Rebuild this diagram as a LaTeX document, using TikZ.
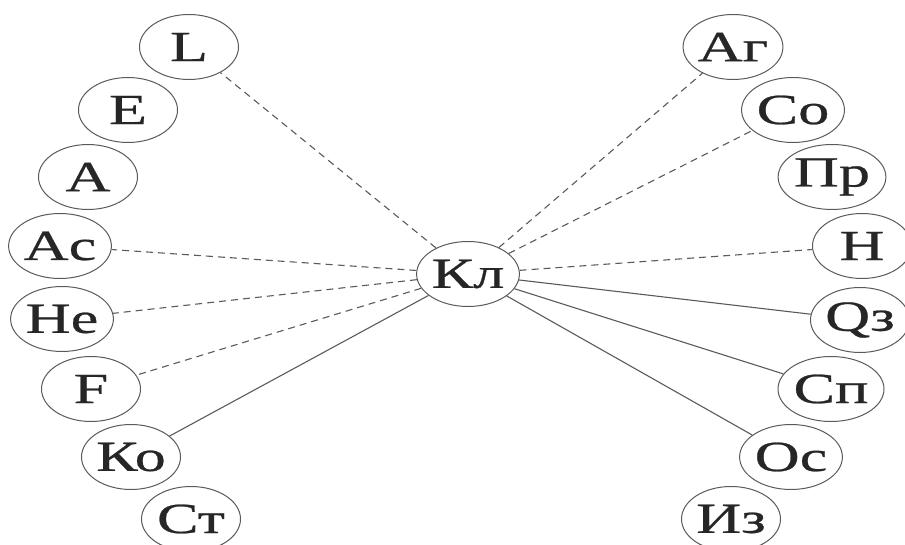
\documentclass[tikz,border=0pt]{standalone}
\usepackage{fontspec}
\setmainfont{Liberation Serif}
\newfontfamily\widefont[FakeStretch=1.45,FakeBold=0.6]{Liberation Serif}
\usetikzlibrary{shapes.geometric}
\definecolor{edgegray}{HTML}{5A5A5A}
\definecolor{inkgray}{HTML}{262626}
\tikzset{
  term/.style={ellipse, draw=edgegray, line width=1pt, inner sep=0pt,
    minimum width=99pt, minimum height=65pt, text=inkgray,
    font=\widefont\fontsize{43}{43}\selectfont},
  weak/.style={draw=edgegray, line width=1.1pt, dash pattern=on 7pt off 5pt},
  strong/.style={draw=edgegray, line width=1.1pt}
}
\begin{document}
\begin{tikzpicture}[x=1pt,y=-1pt]
\useasboundingbox (0,0) rectangle (905,545);
% centre
\node[term] (kl) at (468,274) {Кл};
% left arc
\node[term] (L)  at (189,47)  {L};
\node[term] (E)  at (128,110) {E};
\node[term] (A)  at (88,177)  {A};
\node[term] (Ac) at (60,246)  {Ac};
\node[term] (He) at (62,319)  {He};
\node[term] (F)  at (91,389)  {F};
\node[term] (Ko) at (131,457) {Ко};
\node[term] (St) at (191,519) {Ст};
% right arc
\node[term] (Ar) at (733,47)  {Аг};
\node[term] (Co) at (793,110) {Со};
\node[term] (Pr) at (832,177) {Пр};
\node[term] (N)  at (862,246) {Н};
\node[term] (Qz) at (860,320) {Qз};
\node[term] (Sp) at (831,389) {Сп};
\node[term] (Os) at (791,457) {Ос};
\node[term] (Iz) at (731,519) {Из};
% links
\draw[weak] (kl) -- (L);
\draw[weak] (kl) -- (Ac);
\draw[weak] (kl) -- (He);
\draw[weak] (kl) -- (F);
\draw[strong] (kl) -- (Ko);
\draw[weak] (kl) -- (Ar);
\draw[weak] (kl) -- (Co);
\draw[weak] (kl) -- (N);
\draw[strong] (kl) -- (Qz);
\draw[strong] (kl) -- (Sp);
\draw[strong] (kl) -- (Os);
\end{tikzpicture}
\end{document}
